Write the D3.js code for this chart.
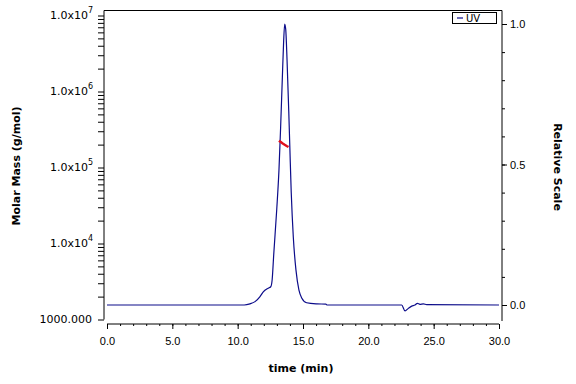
<!DOCTYPE html>
<html>
<head>
<meta charset="utf-8">
<script src="https://cdn.jsdelivr.net/npm/d3@7"></script>
<style>
  body { margin: 0; background: #fff; }
  svg { display: block; font-family: "DejaVu Sans", sans-serif; }
  .tick text { font-size: 11px; fill: #000; }
  .axis-title { font-size: 11px; font-weight: bold; }
</style>
</head>
<body>
<div id="chart"></div>
<script>
// UV trace (relative scale, right axis)
var uvTime = [0, 10.5, 10.94, 11.33, 11.71, 11.96, 12.34, 12.53, 12.64, 12.76, 12.99, 13.16, 13.29, 13.42, 13.52, 13.60, 13.68, 13.78, 13.91, 14.00, 14.10, 14.26, 14.46, 14.69, 14.90, 15.28, 16.05, 16.75, 16.85, 22.55, 22.81, 23.06, 23.32, 23.57, 23.75, 23.95, 24.21, 24.47, 30];
var uvRel  = [0, 0, 0.004, 0.012, 0.03, 0.047, 0.06, 0.065, 0.09, 0.18, 0.34, 0.48, 0.635, 0.81, 0.94, 1.0, 0.98, 0.87, 0.69, 0.55, 0.40, 0.24, 0.125, 0.053, 0.025, 0.008, 0.004, 0.003, 0, 0, -0.021, -0.012, -0.004, 0, 0.006, 0.0025, 0.004, 0.001, 0];

// molar mass (log scale, left axis)
var mmTime = [13.16, 13.3, 13.45, 13.6, 13.75, 13.89];
var mmMass = [225000, 216000, 207000, 199000, 192000, 186000];

// tick labels
var xTickLabels = [0, 5, 10, 15, 20, 25, 30];
var leftExponents = [4, 5, 6, 7];
var rightTickLabels = [0, 0.5, 1.0];

var width = 576, height = 384;

var svg = d3.select("#chart").append("svg")
  .attr("width", width)
  .attr("height", height);

// SCALES
var x = d3.scaleLinear().domain([0, 30]).range([107, 499]);
var yL = d3.scaleLog().domain([1000, 1e7]).range([319.5, 15.5]);
var yR = d3.scaleLinear().domain([0, 1]).range([305, 24]);

// frame lines
svg.append("line").attr("x1", 104).attr("x2", 502).attr("y1", 10.5).attr("y2", 10.5).attr("stroke", "#000");
svg.append("line").attr("x1", 104).attr("x2", 104).attr("y1", 10.5).attr("y2", 319.5).attr("stroke", "#000");
svg.append("line").attr("x1", 502).attr("x2", 502).attr("y1", 10.5).attr("y2", 321).attr("stroke", "#000");
svg.append("line").attr("x1", 107).attr("x2", 499).attr("y1", 324).attr("y2", 324).attr("stroke", "#000");

// left log axis: all minor ticks
var logTicks = [];
for (var e = 3; e < 7; e++) {
  for (var m = 1; m < 10; m++) logTicks.push(m * Math.pow(10, e));
}
logTicks.push(1e7);

var gL = svg.append("g")
  .attr("transform", "translate(104,0)")
  .call(d3.axisLeft(yL).tickValues(logTicks).tickSize(6).tickFormat(function() { return ""; }));
gL.select(".domain").remove();

// left labels
svg.append("text")
  .attr("x", 92).attr("y", yL(1000)).attr("dy", "0.35em")
  .attr("text-anchor", "end")
  .style("font-size", "11px")
  .text("1000.000");

leftExponents.forEach(function(p) {
  var t = svg.append("text")
    .attr("x", 93).attr("y", yL(Math.pow(10, p))).attr("dy", "0.35em")
    .attr("text-anchor", "end")
    .style("font-size", "11px");
  t.append("tspan").text("1.0x10");
  t.append("tspan").attr("dy", "-0.75em").style("font-size", "8px").text(p);
});

// right axis
var gR1 = svg.append("g")
  .attr("transform", "translate(502,0)")
  .call(d3.axisRight(yR).tickValues(d3.range(0, 11).map(function(i) { return i / 10; })).tickSize(3).tickFormat(function() { return ""; }));
gR1.select(".domain").remove();

var gR2 = svg.append("g")
  .attr("transform", "translate(502,0)")
  .call(d3.axisRight(yR).tickValues(rightTickLabels).tickSize(5).tickPadding(3).tickFormat(d3.format(".1f")));
gR2.select(".domain").remove();

// x axis
var gX1 = svg.append("g")
  .attr("transform", "translate(0,324)")
  .call(d3.axisBottom(x).tickValues(d3.range(0, 31)).tickSize(2).tickFormat(function() { return ""; }));
gX1.select(".domain").remove();

var gX2 = svg.append("g")
  .attr("transform", "translate(0,324)")
  .call(d3.axisBottom(x).tickValues(xTickLabels).tickSize(5).tickPadding(8).tickFormat(d3.format(".1f")));
gX2.select(".domain").remove();

// axis titles
svg.append("text")
  .attr("class", "axis-title")
  .attr("transform", "translate(20,166) rotate(-90)")
  .attr("text-anchor", "middle")
  .text("Molar Mass (g/mol)");

svg.append("text")
  .attr("class", "axis-title")
  .attr("transform", "translate(554,167) rotate(90)")
  .attr("text-anchor", "middle")
  .text("Relative Scale");

svg.append("text")
  .attr("class", "axis-title")
  .attr("x", 301).attr("y", 372)
  .attr("text-anchor", "middle")
  .text("time (min)");

// UV line
var uvData = uvTime.map(function(t, i) { return { t: t, v: uvRel[i] }; });
svg.append("path")
  .datum(uvData)
  .attr("fill", "none")
  .attr("stroke", "#0c0c8a")
  .attr("stroke-width", 1.2)
  .attr("d", d3.line()
    .x(function(d) { return x(d.t); })
    .y(function(d) { return yR(d.v); })
    .curve(d3.curveMonotoneX));

// molar mass line
var mmData = mmTime.map(function(t, i) { return { t: t, m: mmMass[i] }; });
svg.append("path")
  .datum(mmData)
  .attr("fill", "none")
  .attr("stroke", "#e0101c")
  .attr("stroke-width", 2.5)
  .attr("d", d3.line()
    .x(function(d) { return x(d.t); })
    .y(function(d) { return yL(d.m); }));

// legend
var lg = svg.append("g");
lg.append("rect")
  .attr("x", 452.5).attr("y", 12.5).attr("width", 44).attr("height", 11)
  .attr("fill", "#fff").attr("stroke", "#000");
lg.append("line")
  .attr("x1", 457).attr("x2", 463).attr("y1", 18).attr("y2", 18)
  .attr("stroke", "#0c0c8a").attr("stroke-width", 1.2);
lg.append("text")
  .attr("x", 466).attr("y", 18).attr("dy", "0.35em")
  .style("font-size", "10px")
  .text("UV");
</script>
</body>
</html>
